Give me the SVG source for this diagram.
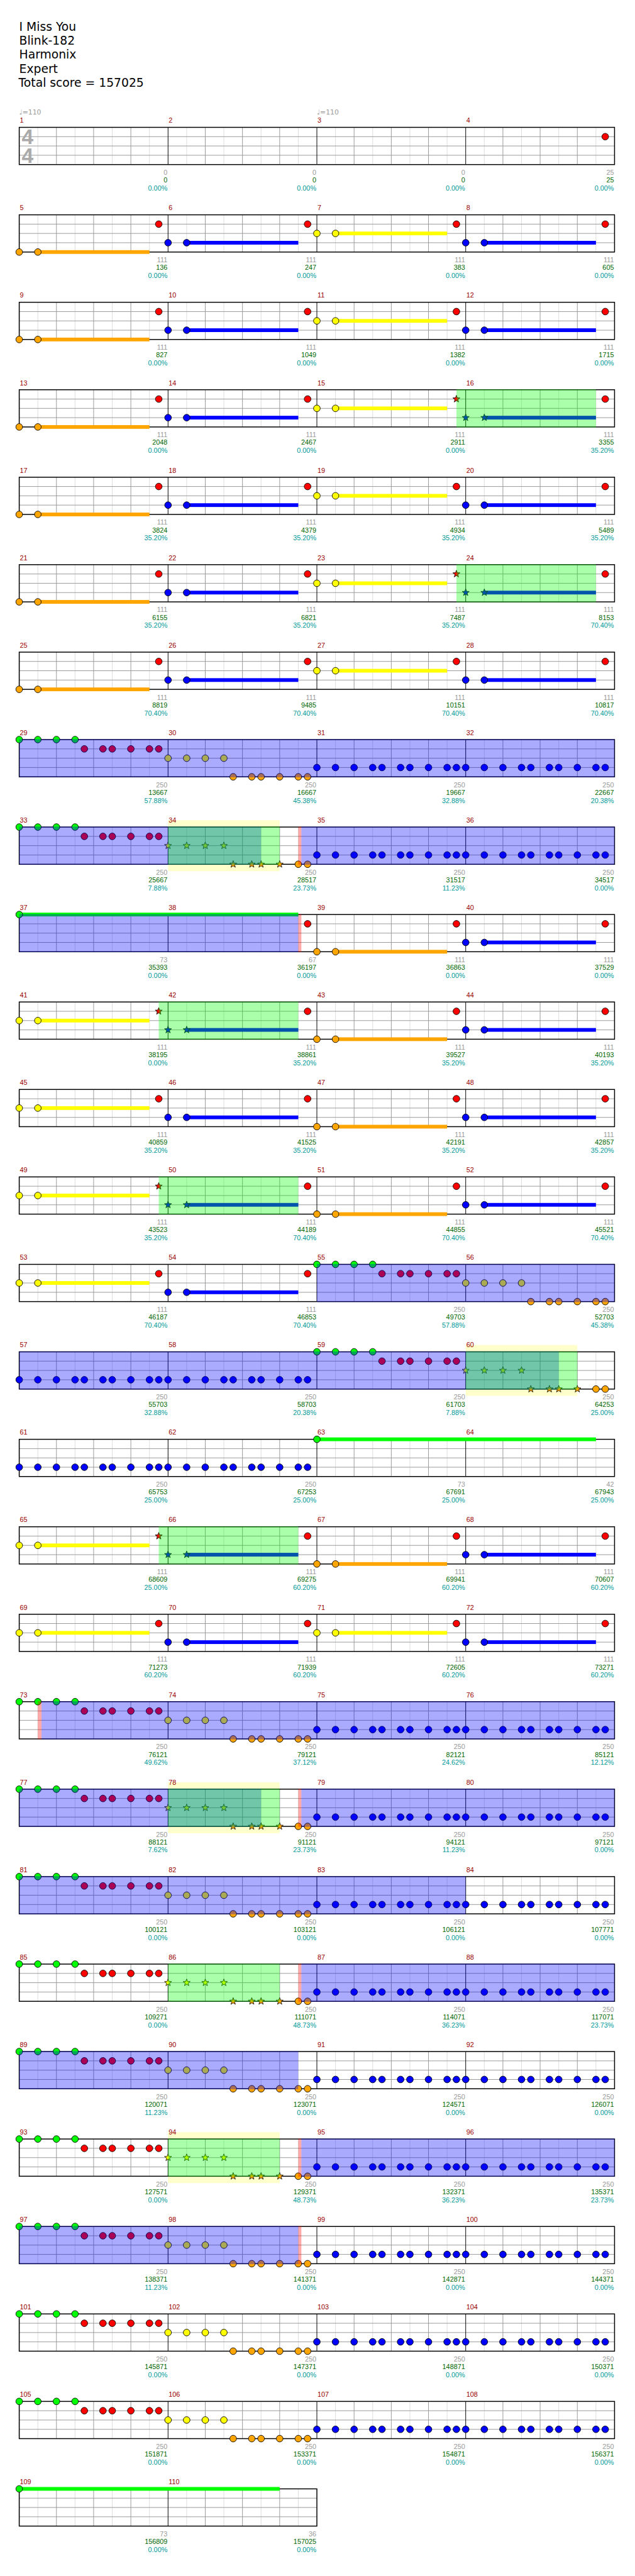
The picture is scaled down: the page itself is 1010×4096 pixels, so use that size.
<svg xmlns="http://www.w3.org/2000/svg" xmlns:xlink="http://www.w3.org/1999/xlink" width="1010" height="4096" viewBox="0 0 1010 4096">
<style>
.hd{font:19px "DejaVu Sans",sans-serif;fill:#000}
.tp{font:11px "DejaVu Sans",sans-serif;fill:#999}
.mn{font:11px "Liberation Sans",Arial,sans-serif;fill:#900}
.s1,.s2,.s3{font:11px "Liberation Sans",Arial,sans-serif;text-anchor:end}
.s1{fill:#999}.s2{fill:#060}.s3{fill:#099}
.ob{fill:#00f;opacity:.333}
.og{fill:#0f0;opacity:.333}
.or{fill:#f00;opacity:.333}
.oy{fill:#ffc}
</style>
<defs>
<circle id="c" r="5.4" stroke="#000" stroke-width="0.9"/>
<use id="G" href="#c" fill="#0f0"/>
<use id="R" href="#c" fill="#f00"/>
<use id="Y" href="#c" fill="#ff0"/>
<use id="B" href="#c" fill="#00f"/>
<use id="O" href="#c" fill="#ffa500"/>
<path id="sp" d="M0,-6L1.47,-2.02L5.71,-1.85L2.38,0.77L3.53,4.85L0,2.5L-3.53,4.85L-2.38,0.77L-5.71,-1.85L-1.47,-2.02Z" stroke="#000" stroke-width="0.8"/>
<use id="sR" href="#sp" fill="#f00"/>
<use id="sY" href="#sp" fill="#ff0"/>
<use id="sB" href="#sp" fill="#00f"/>
<use id="sO" href="#sp" fill="#ffa500"/>
<g id="m">
<rect width="240" height="60" fill="#fff"/>
<path d="M30,0V60M90,0V60M150,0V60M210,0V60" stroke="#ddd"/>
<path d="M60,0V60M120,0V60M180,0V60M0,15H240M0,30H240M0,45H240" stroke="#999"/>
<path d="M0,0V60" stroke="#000"/>
</g>
<g id="st4"><use href="#m"/><use href="#m" x="240"/><use href="#m" x="480"/><use href="#m" x="720"/><rect width="960" height="60" fill="none" stroke="#000" stroke-width="1.5"/></g>
<g id="st2"><use href="#m"/><use href="#m" x="240"/><rect width="480" height="60" fill="none" stroke="#000" stroke-width="1.5"/></g>
<g id="vO"><rect x="30" y="57" width="180" height="6" fill="#ffa500"/><use href="#O" y="60"/><use href="#O" x="30" y="60"/><use href="#R" x="225" y="15"/></g>
<g id="vB"><rect x="30" y="42" width="180" height="6" fill="#00f"/><use href="#B" y="45"/><use href="#B" x="30" y="45"/><use href="#R" x="225" y="15"/></g>
<g id="vY"><rect x="30" y="27" width="180" height="6" fill="#ff0"/><use href="#Y" y="30"/><use href="#Y" x="30" y="30"/><use href="#R" x="225" y="15"/></g>
<g id="vYs"><rect x="30" y="27" width="180" height="6" fill="#ff0"/><use href="#Y" y="30"/><use href="#Y" x="30" y="30"/><use href="#sR" x="225" y="15"/></g>
<g id="vBs"><rect x="30" y="42" width="180" height="6" fill="#00f"/><use href="#sB" y="45"/><use href="#sB" x="30" y="45"/><use href="#R" x="225" y="15"/></g>
<g id="rA"><use href="#G"/><use href="#G" x="30"/><use href="#G" x="60"/><use href="#G" x="90"/><use href="#R" x="105" y="15"/><use href="#R" x="135" y="15"/><use href="#R" x="150" y="15"/><use href="#R" x="180" y="15"/><use href="#R" x="210" y="15"/><use href="#R" x="225" y="15"/></g>
<g id="rB"><use href="#Y" y="30"/><use href="#Y" x="30" y="30"/><use href="#Y" x="60" y="30"/><use href="#Y" x="90" y="30"/><use href="#O" x="105" y="60"/><use href="#O" x="135" y="60"/><use href="#O" x="150" y="60"/><use href="#O" x="180" y="60"/><use href="#O" x="210" y="60"/><use href="#O" x="225" y="60"/></g>
<g id="rBs"><use href="#sY" y="30"/><use href="#sY" x="30" y="30"/><use href="#sY" x="60" y="30"/><use href="#sY" x="90" y="30"/><use href="#sO" x="105" y="60"/><use href="#sO" x="135" y="60"/><use href="#sO" x="150" y="60"/><use href="#sO" x="180" y="60"/><use href="#O" x="210" y="60"/><use href="#O" x="225" y="60"/></g>
<g id="rC"><use href="#B" y="45"/><use href="#B" x="30" y="45"/><use href="#B" x="60" y="45"/><use href="#B" x="90" y="45"/><use href="#B" x="105" y="45"/><use href="#B" x="135" y="45"/><use href="#B" x="150" y="45"/><use href="#B" x="180" y="45"/><use href="#B" x="210" y="45"/><use href="#B" x="225" y="45"/></g>
</defs>
<rect width="1010" height="4096" fill="#fff"/>
<g transform="scale(0.98633)">
<g id="header">
<text class="hd" x="31" y="49.3">I Miss You</text>
<text class="hd" x="31" y="71.7">Blink-182</text>
<text class="hd" x="31" y="94.3">Harmonix</text>
<text class="hd" x="31" y="117.7">Expert</text>
<text class="hd" x="30" y="140">Total score = 157025</text>
</g>

<g id="row1" transform="translate(31,205.3)">
<use href="#st4"/>
<text class="tp" x="0" y="-20.3">♩=110</text><text class="tp" x="480" y="-20.3">♩=110</text>
<text style="font:bold 34px 'Liberation Sans',sans-serif;fill:#aaa" x="4" y="27">4</text>
<text style="font:bold 34px 'Liberation Sans',sans-serif;fill:#aaa" x="4" y="57">4</text>
<use href="#R" x="945" y="15"/>
<text class="mn" x="1" y="-7.3">1</text><text class="mn" x="241" y="-7.3">2</text><text class="mn" x="481" y="-7.3">3</text><text class="mn" x="721" y="-7.3">4</text>
<text class="s1" x="239" y="76.7">0</text><text class="s2" x="239" y="89">0</text><text class="s3" x="239" y="102">0.00%</text>
<text class="s1" x="479" y="76.7">0</text><text class="s2" x="479" y="89">0</text><text class="s3" x="479" y="102">0.00%</text>
<text class="s1" x="719" y="76.7">0</text><text class="s2" x="719" y="89">0</text><text class="s3" x="719" y="102">0.00%</text>
<text class="s1" x="959" y="76.7">25</text><text class="s2" x="959" y="89">25</text><text class="s3" x="959" y="102">0.00%</text>
</g>

<g id="row5" transform="translate(31,346.3)">
<use href="#st4"/>
<use href="#vO"/><use href="#vB" x="240"/><use href="#vY" x="480"/><use href="#vB" x="720"/>
<text class="mn" x="1" y="-7.3">5</text><text class="mn" x="241" y="-7.3">6</text><text class="mn" x="481" y="-7.3">7</text><text class="mn" x="721" y="-7.3">8</text>
<text class="s1" x="239" y="76.7">111</text><text class="s2" x="239" y="89">136</text><text class="s3" x="239" y="102">0.00%</text>
<text class="s1" x="479" y="76.7">111</text><text class="s2" x="479" y="89">247</text><text class="s3" x="479" y="102">0.00%</text>
<text class="s1" x="719" y="76.7">111</text><text class="s2" x="719" y="89">383</text><text class="s3" x="719" y="102">0.00%</text>
<text class="s1" x="959" y="76.7">111</text><text class="s2" x="959" y="89">605</text><text class="s3" x="959" y="102">0.00%</text>
</g>

<g id="row9" transform="translate(31,487.3)">
<use href="#st4"/>
<use href="#vO"/><use href="#vB" x="240"/><use href="#vY" x="480"/><use href="#vB" x="720"/>
<text class="mn" x="1" y="-7.3">9</text><text class="mn" x="241" y="-7.3">10</text><text class="mn" x="481" y="-7.3">11</text><text class="mn" x="721" y="-7.3">12</text>
<text class="s1" x="239" y="76.7">111</text><text class="s2" x="239" y="89">827</text><text class="s3" x="239" y="102">0.00%</text>
<text class="s1" x="479" y="76.7">111</text><text class="s2" x="479" y="89">1049</text><text class="s3" x="479" y="102">0.00%</text>
<text class="s1" x="719" y="76.7">111</text><text class="s2" x="719" y="89">1382</text><text class="s3" x="719" y="102">0.00%</text>
<text class="s1" x="959" y="76.7">111</text><text class="s2" x="959" y="89">1715</text><text class="s3" x="959" y="102">0.00%</text>
</g>

<g id="row13" transform="translate(31,628.3)">
<use href="#st4"/>
<use href="#vO"/><use href="#vB" x="240"/><use href="#vYs" x="480"/><use href="#vBs" x="720"/>
<rect class="og" x="705" y="-0.7" width="225" height="61.4"/>
<text class="mn" x="1" y="-7.3">13</text><text class="mn" x="241" y="-7.3">14</text><text class="mn" x="481" y="-7.3">15</text><text class="mn" x="721" y="-7.3">16</text>
<text class="s1" x="239" y="76.7">111</text><text class="s2" x="239" y="89">2048</text><text class="s3" x="239" y="102">0.00%</text>
<text class="s1" x="479" y="76.7">111</text><text class="s2" x="479" y="89">2467</text><text class="s3" x="479" y="102">0.00%</text>
<text class="s1" x="719" y="76.7">111</text><text class="s2" x="719" y="89">2911</text><text class="s3" x="719" y="102">0.00%</text>
<text class="s1" x="959" y="76.7">111</text><text class="s2" x="959" y="89">3355</text><text class="s3" x="959" y="102">35.20%</text>
</g>

<g id="row17" transform="translate(31,769.3)">
<use href="#st4"/>
<use href="#vO"/><use href="#vB" x="240"/><use href="#vY" x="480"/><use href="#vB" x="720"/>
<text class="mn" x="1" y="-7.3">17</text><text class="mn" x="241" y="-7.3">18</text><text class="mn" x="481" y="-7.3">19</text><text class="mn" x="721" y="-7.3">20</text>
<text class="s1" x="239" y="76.7">111</text><text class="s2" x="239" y="89">3824</text><text class="s3" x="239" y="102">35.20%</text>
<text class="s1" x="479" y="76.7">111</text><text class="s2" x="479" y="89">4379</text><text class="s3" x="479" y="102">35.20%</text>
<text class="s1" x="719" y="76.7">111</text><text class="s2" x="719" y="89">4934</text><text class="s3" x="719" y="102">35.20%</text>
<text class="s1" x="959" y="76.7">111</text><text class="s2" x="959" y="89">5489</text><text class="s3" x="959" y="102">35.20%</text>
</g>

<g id="row21" transform="translate(31,910.3)">
<use href="#st4"/>
<use href="#vO"/><use href="#vB" x="240"/><use href="#vYs" x="480"/><use href="#vBs" x="720"/>
<rect class="og" x="705" y="-0.7" width="225" height="61.4"/>
<text class="mn" x="1" y="-7.3">21</text><text class="mn" x="241" y="-7.3">22</text><text class="mn" x="481" y="-7.3">23</text><text class="mn" x="721" y="-7.3">24</text>
<text class="s1" x="239" y="76.7">111</text><text class="s2" x="239" y="89">6155</text><text class="s3" x="239" y="102">35.20%</text>
<text class="s1" x="479" y="76.7">111</text><text class="s2" x="479" y="89">6821</text><text class="s3" x="479" y="102">35.20%</text>
<text class="s1" x="719" y="76.7">111</text><text class="s2" x="719" y="89">7487</text><text class="s3" x="719" y="102">35.20%</text>
<text class="s1" x="959" y="76.7">111</text><text class="s2" x="959" y="89">8153</text><text class="s3" x="959" y="102">70.40%</text>
</g>

<g id="row25" transform="translate(31,1051.3)">
<use href="#st4"/>
<use href="#vO"/><use href="#vB" x="240"/><use href="#vY" x="480"/><use href="#vB" x="720"/>
<text class="mn" x="1" y="-7.3">25</text><text class="mn" x="241" y="-7.3">26</text><text class="mn" x="481" y="-7.3">27</text><text class="mn" x="721" y="-7.3">28</text>
<text class="s1" x="239" y="76.7">111</text><text class="s2" x="239" y="89">8819</text><text class="s3" x="239" y="102">70.40%</text>
<text class="s1" x="479" y="76.7">111</text><text class="s2" x="479" y="89">9485</text><text class="s3" x="479" y="102">70.40%</text>
<text class="s1" x="719" y="76.7">111</text><text class="s2" x="719" y="89">10151</text><text class="s3" x="719" y="102">70.40%</text>
<text class="s1" x="959" y="76.7">111</text><text class="s2" x="959" y="89">10817</text><text class="s3" x="959" y="102">70.40%</text>
</g>

<g id="row29" transform="translate(31,1192.3)">
<use href="#st4"/>
<use href="#rA"/><use href="#rB" x="240"/><use href="#rC" x="480"/><use href="#rC" x="720"/>
<rect class="ob" x="0" y="-0.7" width="960" height="61.4"/>
<text class="mn" x="1" y="-7.3">29</text><text class="mn" x="241" y="-7.3">30</text><text class="mn" x="481" y="-7.3">31</text><text class="mn" x="721" y="-7.3">32</text>
<text class="s1" x="239" y="76.7">250</text><text class="s2" x="239" y="89">13667</text><text class="s3" x="239" y="102">57.88%</text>
<text class="s1" x="479" y="76.7">250</text><text class="s2" x="479" y="89">16667</text><text class="s3" x="479" y="102">45.38%</text>
<text class="s1" x="719" y="76.7">250</text><text class="s2" x="719" y="89">19667</text><text class="s3" x="719" y="102">32.88%</text>
<text class="s1" x="959" y="76.7">250</text><text class="s2" x="959" y="89">22667</text><text class="s3" x="959" y="102">20.38%</text>
</g>

<g id="row33" transform="translate(31,1333.3)">
<rect class="oy" x="240" y="-11" width="180" height="82"/>
<use href="#st4"/>
<use href="#rA"/><use href="#rBs" x="240"/><use href="#rC" x="480"/><use href="#rC" x="720"/>
<rect class="ob" x="0" y="-0.7" width="390" height="61.4"/>
<rect class="og" x="240" y="-0.7" width="180" height="61.4"/>
<rect class="or" x="450" y="-0.7" width="5" height="61.4"/>
<rect class="ob" x="455" y="-0.7" width="505" height="61.4"/>
<text class="mn" x="1" y="-7.3">33</text><text class="mn" x="241" y="-7.3">34</text><text class="mn" x="481" y="-7.3">35</text><text class="mn" x="721" y="-7.3">36</text>
<text class="s1" x="239" y="76.7">250</text><text class="s2" x="239" y="89">25667</text><text class="s3" x="239" y="102">7.88%</text>
<text class="s1" x="479" y="76.7">250</text><text class="s2" x="479" y="89">28517</text><text class="s3" x="479" y="102">23.73%</text>
<text class="s1" x="719" y="76.7">250</text><text class="s2" x="719" y="89">31517</text><text class="s3" x="719" y="102">11.23%</text>
<text class="s1" x="959" y="76.7">250</text><text class="s2" x="959" y="89">34517</text><text class="s3" x="959" y="102">0.00%</text>
</g>

<g id="row37" transform="translate(31,1474.3)">
<use href="#st4"/>
<rect x="0" y="-3" width="450" height="6" fill="#0f0"/><use href="#G"/><use href="#R" x="465" y="15"/>
<use href="#vO" x="480"/><use href="#vB" x="720"/>
<rect class="ob" x="0" y="-0.7" width="450" height="61.4"/>
<rect class="or" x="450" y="-0.7" width="5" height="61.4"/>
<text class="mn" x="1" y="-7.3">37</text><text class="mn" x="241" y="-7.3">38</text><text class="mn" x="481" y="-7.3">39</text><text class="mn" x="721" y="-7.3">40</text>
<text class="s1" x="239" y="76.7">73</text><text class="s2" x="239" y="89">35393</text><text class="s3" x="239" y="102">0.00%</text>
<text class="s1" x="479" y="76.7">67</text><text class="s2" x="479" y="89">36197</text><text class="s3" x="479" y="102">0.00%</text>
<text class="s1" x="719" y="76.7">111</text><text class="s2" x="719" y="89">36863</text><text class="s3" x="719" y="102">0.00%</text>
<text class="s1" x="959" y="76.7">111</text><text class="s2" x="959" y="89">37529</text><text class="s3" x="959" y="102">0.00%</text>
</g>

<g id="row41" transform="translate(31,1615.3)">
<use href="#st4"/>
<use href="#vYs"/><use href="#vBs" x="240"/><use href="#vO" x="480"/><use href="#vB" x="720"/>
<rect class="og" x="225" y="-0.7" width="225" height="61.4"/>
<text class="mn" x="1" y="-7.3">41</text><text class="mn" x="241" y="-7.3">42</text><text class="mn" x="481" y="-7.3">43</text><text class="mn" x="721" y="-7.3">44</text>
<text class="s1" x="239" y="76.7">111</text><text class="s2" x="239" y="89">38195</text><text class="s3" x="239" y="102">0.00%</text>
<text class="s1" x="479" y="76.7">111</text><text class="s2" x="479" y="89">38861</text><text class="s3" x="479" y="102">35.20%</text>
<text class="s1" x="719" y="76.7">111</text><text class="s2" x="719" y="89">39527</text><text class="s3" x="719" y="102">35.20%</text>
<text class="s1" x="959" y="76.7">111</text><text class="s2" x="959" y="89">40193</text><text class="s3" x="959" y="102">35.20%</text>
</g>

<g id="row45" transform="translate(31,1756.3)">
<use href="#st4"/>
<use href="#vY"/><use href="#vB" x="240"/><use href="#vO" x="480"/><use href="#vB" x="720"/>
<text class="mn" x="1" y="-7.3">45</text><text class="mn" x="241" y="-7.3">46</text><text class="mn" x="481" y="-7.3">47</text><text class="mn" x="721" y="-7.3">48</text>
<text class="s1" x="239" y="76.7">111</text><text class="s2" x="239" y="89">40859</text><text class="s3" x="239" y="102">35.20%</text>
<text class="s1" x="479" y="76.7">111</text><text class="s2" x="479" y="89">41525</text><text class="s3" x="479" y="102">35.20%</text>
<text class="s1" x="719" y="76.7">111</text><text class="s2" x="719" y="89">42191</text><text class="s3" x="719" y="102">35.20%</text>
<text class="s1" x="959" y="76.7">111</text><text class="s2" x="959" y="89">42857</text><text class="s3" x="959" y="102">35.20%</text>
</g>

<g id="row49" transform="translate(31,1897.3)">
<use href="#st4"/>
<use href="#vYs"/><use href="#vBs" x="240"/><use href="#vO" x="480"/><use href="#vB" x="720"/>
<rect class="og" x="225" y="-0.7" width="225" height="61.4"/>
<text class="mn" x="1" y="-7.3">49</text><text class="mn" x="241" y="-7.3">50</text><text class="mn" x="481" y="-7.3">51</text><text class="mn" x="721" y="-7.3">52</text>
<text class="s1" x="239" y="76.7">111</text><text class="s2" x="239" y="89">43523</text><text class="s3" x="239" y="102">35.20%</text>
<text class="s1" x="479" y="76.7">111</text><text class="s2" x="479" y="89">44189</text><text class="s3" x="479" y="102">70.40%</text>
<text class="s1" x="719" y="76.7">111</text><text class="s2" x="719" y="89">44855</text><text class="s3" x="719" y="102">70.40%</text>
<text class="s1" x="959" y="76.7">111</text><text class="s2" x="959" y="89">45521</text><text class="s3" x="959" y="102">70.40%</text>
</g>

<g id="row53" transform="translate(31,2038.3)">
<use href="#st4"/>
<use href="#vY"/><use href="#vB" x="240"/><use href="#rA" x="480"/><use href="#rB" x="720"/>
<rect class="ob" x="480" y="-0.7" width="480" height="61.4"/>
<text class="mn" x="1" y="-7.3">53</text><text class="mn" x="241" y="-7.3">54</text><text class="mn" x="481" y="-7.3">55</text><text class="mn" x="721" y="-7.3">56</text>
<text class="s1" x="239" y="76.7">111</text><text class="s2" x="239" y="89">46187</text><text class="s3" x="239" y="102">70.40%</text>
<text class="s1" x="479" y="76.7">111</text><text class="s2" x="479" y="89">46853</text><text class="s3" x="479" y="102">70.40%</text>
<text class="s1" x="719" y="76.7">250</text><text class="s2" x="719" y="89">49703</text><text class="s3" x="719" y="102">57.88%</text>
<text class="s1" x="959" y="76.7">250</text><text class="s2" x="959" y="89">52703</text><text class="s3" x="959" y="102">45.38%</text>
</g>

<g id="row57" transform="translate(31,2179.3)">
<rect class="oy" x="720" y="-11" width="180" height="82"/>
<use href="#st4"/>
<use href="#rC"/><use href="#rC" x="240"/><use href="#rA" x="480"/><use href="#rBs" x="720"/>
<rect class="ob" x="0" y="-0.7" width="870" height="61.4"/>
<rect class="og" x="720" y="-0.7" width="180" height="61.4"/>
<text class="mn" x="1" y="-7.3">57</text><text class="mn" x="241" y="-7.3">58</text><text class="mn" x="481" y="-7.3">59</text><text class="mn" x="721" y="-7.3">60</text>
<text class="s1" x="239" y="76.7">250</text><text class="s2" x="239" y="89">55703</text><text class="s3" x="239" y="102">32.88%</text>
<text class="s1" x="479" y="76.7">250</text><text class="s2" x="479" y="89">58703</text><text class="s3" x="479" y="102">20.38%</text>
<text class="s1" x="719" y="76.7">250</text><text class="s2" x="719" y="89">61703</text><text class="s3" x="719" y="102">7.88%</text>
<text class="s1" x="959" y="76.7">250</text><text class="s2" x="959" y="89">64253</text><text class="s3" x="959" y="102">25.00%</text>
</g>

<g id="row61" transform="translate(31,2320.3)">
<use href="#st4"/>
<use href="#rC"/><use href="#rC" x="240"/>
<rect x="480" y="-3" width="450" height="6" fill="#0f0"/><use href="#G" x="480"/>
<text class="mn" x="1" y="-7.3">61</text><text class="mn" x="241" y="-7.3">62</text><text class="mn" x="481" y="-7.3">63</text><text class="mn" x="721" y="-7.3">64</text>
<text class="s1" x="239" y="76.7">250</text><text class="s2" x="239" y="89">65753</text><text class="s3" x="239" y="102">25.00%</text>
<text class="s1" x="479" y="76.7">250</text><text class="s2" x="479" y="89">67253</text><text class="s3" x="479" y="102">25.00%</text>
<text class="s1" x="719" y="76.7">73</text><text class="s2" x="719" y="89">67691</text><text class="s3" x="719" y="102">25.00%</text>
<text class="s1" x="959" y="76.7">42</text><text class="s2" x="959" y="89">67943</text><text class="s3" x="959" y="102">25.00%</text>
</g>

<g id="row65" transform="translate(31,2461.3)">
<use href="#st4"/>
<use href="#vYs"/><use href="#vBs" x="240"/><use href="#vO" x="480"/><use href="#vB" x="720"/>
<rect class="og" x="225" y="-0.7" width="225" height="61.4"/>
<text class="mn" x="1" y="-7.3">65</text><text class="mn" x="241" y="-7.3">66</text><text class="mn" x="481" y="-7.3">67</text><text class="mn" x="721" y="-7.3">68</text>
<text class="s1" x="239" y="76.7">111</text><text class="s2" x="239" y="89">68609</text><text class="s3" x="239" y="102">25.00%</text>
<text class="s1" x="479" y="76.7">111</text><text class="s2" x="479" y="89">69275</text><text class="s3" x="479" y="102">60.20%</text>
<text class="s1" x="719" y="76.7">111</text><text class="s2" x="719" y="89">69941</text><text class="s3" x="719" y="102">60.20%</text>
<text class="s1" x="959" y="76.7">111</text><text class="s2" x="959" y="89">70607</text><text class="s3" x="959" y="102">60.20%</text>
</g>

<g id="row69" transform="translate(31,2602.3)">
<use href="#st4"/>
<use href="#vY"/><use href="#vB" x="240"/><use href="#vY" x="480"/><use href="#vB" x="720"/>
<text class="mn" x="1" y="-7.3">69</text><text class="mn" x="241" y="-7.3">70</text><text class="mn" x="481" y="-7.3">71</text><text class="mn" x="721" y="-7.3">72</text>
<text class="s1" x="239" y="76.7">111</text><text class="s2" x="239" y="89">71273</text><text class="s3" x="239" y="102">60.20%</text>
<text class="s1" x="479" y="76.7">111</text><text class="s2" x="479" y="89">71939</text><text class="s3" x="479" y="102">60.20%</text>
<text class="s1" x="719" y="76.7">111</text><text class="s2" x="719" y="89">72605</text><text class="s3" x="719" y="102">60.20%</text>
<text class="s1" x="959" y="76.7">111</text><text class="s2" x="959" y="89">73271</text><text class="s3" x="959" y="102">60.20%</text>
</g>

<g id="row73" transform="translate(31,2743.3)">
<use href="#st4"/>
<use href="#rA"/><use href="#rB" x="240"/><use href="#rC" x="480"/><use href="#rC" x="720"/>
<rect class="or" x="30" y="-0.7" width="6" height="61.4"/>
<rect class="ob" x="36" y="-0.7" width="924" height="61.4"/>
<text class="mn" x="1" y="-7.3">73</text><text class="mn" x="241" y="-7.3">74</text><text class="mn" x="481" y="-7.3">75</text><text class="mn" x="721" y="-7.3">76</text>
<text class="s1" x="239" y="76.7">250</text><text class="s2" x="239" y="89">76121</text><text class="s3" x="239" y="102">49.62%</text>
<text class="s1" x="479" y="76.7">250</text><text class="s2" x="479" y="89">79121</text><text class="s3" x="479" y="102">37.12%</text>
<text class="s1" x="719" y="76.7">250</text><text class="s2" x="719" y="89">82121</text><text class="s3" x="719" y="102">24.62%</text>
<text class="s1" x="959" y="76.7">250</text><text class="s2" x="959" y="89">85121</text><text class="s3" x="959" y="102">12.12%</text>
</g>

<g id="row77" transform="translate(31,2884.3)">
<rect class="oy" x="240" y="-11" width="180" height="82"/>
<use href="#st4"/>
<use href="#rA"/><use href="#rBs" x="240"/><use href="#rC" x="480"/><use href="#rC" x="720"/>
<rect class="ob" x="0" y="-0.7" width="390" height="61.4"/>
<rect class="og" x="240" y="-0.7" width="180" height="61.4"/>
<rect class="or" x="450" y="-0.7" width="5" height="61.4"/>
<rect class="ob" x="455" y="-0.7" width="505" height="61.4"/>
<text class="mn" x="1" y="-7.3">77</text><text class="mn" x="241" y="-7.3">78</text><text class="mn" x="481" y="-7.3">79</text><text class="mn" x="721" y="-7.3">80</text>
<text class="s1" x="239" y="76.7">250</text><text class="s2" x="239" y="89">88121</text><text class="s3" x="239" y="102">7.62%</text>
<text class="s1" x="479" y="76.7">250</text><text class="s2" x="479" y="89">91121</text><text class="s3" x="479" y="102">23.73%</text>
<text class="s1" x="719" y="76.7">250</text><text class="s2" x="719" y="89">94121</text><text class="s3" x="719" y="102">11.23%</text>
<text class="s1" x="959" y="76.7">250</text><text class="s2" x="959" y="89">97121</text><text class="s3" x="959" y="102">0.00%</text>
</g>

<g id="row81" transform="translate(31,3025.3)">
<use href="#st4"/>
<use href="#rA"/><use href="#rB" x="240"/><use href="#rC" x="480"/><use href="#rC" x="720"/>
<rect class="ob" x="0" y="-0.7" width="720" height="61.4"/>
<text class="mn" x="1" y="-7.3">81</text><text class="mn" x="241" y="-7.3">82</text><text class="mn" x="481" y="-7.3">83</text><text class="mn" x="721" y="-7.3">84</text>
<text class="s1" x="239" y="76.7">250</text><text class="s2" x="239" y="89">100121</text><text class="s3" x="239" y="102">0.00%</text>
<text class="s1" x="479" y="76.7">250</text><text class="s2" x="479" y="89">103121</text><text class="s3" x="479" y="102">0.00%</text>
<text class="s1" x="719" y="76.7">250</text><text class="s2" x="719" y="89">106121</text><text class="s3" x="719" y="102">0.00%</text>
<text class="s1" x="959" y="76.7">250</text><text class="s2" x="959" y="89">107771</text><text class="s3" x="959" y="102">0.00%</text>
</g>

<g id="row85" transform="translate(31,3166.3)">
<use href="#st4"/>
<use href="#rA"/><use href="#rBs" x="240"/><use href="#rC" x="480"/><use href="#rC" x="720"/>
<rect class="og" x="240" y="-0.7" width="180" height="61.4"/>
<rect class="or" x="450" y="-0.7" width="5" height="61.4"/>
<rect class="ob" x="455" y="-0.7" width="505" height="61.4"/>
<text class="mn" x="1" y="-7.3">85</text><text class="mn" x="241" y="-7.3">86</text><text class="mn" x="481" y="-7.3">87</text><text class="mn" x="721" y="-7.3">88</text>
<text class="s1" x="239" y="76.7">250</text><text class="s2" x="239" y="89">109271</text><text class="s3" x="239" y="102">0.00%</text>
<text class="s1" x="479" y="76.7">250</text><text class="s2" x="479" y="89">111071</text><text class="s3" x="479" y="102">48.73%</text>
<text class="s1" x="719" y="76.7">250</text><text class="s2" x="719" y="89">114071</text><text class="s3" x="719" y="102">36.23%</text>
<text class="s1" x="959" y="76.7">250</text><text class="s2" x="959" y="89">117071</text><text class="s3" x="959" y="102">23.73%</text>
</g>

<g id="row89" transform="translate(31,3307.3)">
<use href="#st4"/>
<use href="#rA"/><use href="#rB" x="240"/><use href="#rC" x="480"/><use href="#rC" x="720"/>
<rect class="ob" x="0" y="-0.7" width="450" height="61.4"/>
<text class="mn" x="1" y="-7.3">89</text><text class="mn" x="241" y="-7.3">90</text><text class="mn" x="481" y="-7.3">91</text><text class="mn" x="721" y="-7.3">92</text>
<text class="s1" x="239" y="76.7">250</text><text class="s2" x="239" y="89">120071</text><text class="s3" x="239" y="102">11.23%</text>
<text class="s1" x="479" y="76.7">250</text><text class="s2" x="479" y="89">123071</text><text class="s3" x="479" y="102">0.00%</text>
<text class="s1" x="719" y="76.7">250</text><text class="s2" x="719" y="89">124571</text><text class="s3" x="719" y="102">0.00%</text>
<text class="s1" x="959" y="76.7">250</text><text class="s2" x="959" y="89">126071</text><text class="s3" x="959" y="102">0.00%</text>
</g>

<g id="row93" transform="translate(31,3448.3)">
<rect class="oy" x="240" y="-11" width="180" height="82"/>
<use href="#st4"/>
<use href="#rA"/><use href="#rBs" x="240"/><use href="#rC" x="480"/><use href="#rC" x="720"/>
<rect class="og" x="240" y="-0.7" width="180" height="61.4"/>
<rect class="or" x="450" y="-0.7" width="5" height="61.4"/>
<rect class="ob" x="455" y="-0.7" width="505" height="61.4"/>
<text class="mn" x="1" y="-7.3">93</text><text class="mn" x="241" y="-7.3">94</text><text class="mn" x="481" y="-7.3">95</text><text class="mn" x="721" y="-7.3">96</text>
<text class="s1" x="239" y="76.7">250</text><text class="s2" x="239" y="89">127571</text><text class="s3" x="239" y="102">0.00%</text>
<text class="s1" x="479" y="76.7">250</text><text class="s2" x="479" y="89">129371</text><text class="s3" x="479" y="102">48.73%</text>
<text class="s1" x="719" y="76.7">250</text><text class="s2" x="719" y="89">132371</text><text class="s3" x="719" y="102">36.23%</text>
<text class="s1" x="959" y="76.7">250</text><text class="s2" x="959" y="89">135371</text><text class="s3" x="959" y="102">23.73%</text>
</g>

<g id="row97" transform="translate(31,3589.3)">
<use href="#st4"/>
<use href="#rA"/><use href="#rB" x="240"/><use href="#rC" x="480"/><use href="#rC" x="720"/>
<rect class="ob" x="0" y="-0.7" width="450" height="61.4"/>
<rect class="or" x="450" y="-0.7" width="5" height="61.4"/>
<text class="mn" x="1" y="-7.3">97</text><text class="mn" x="241" y="-7.3">98</text><text class="mn" x="481" y="-7.3">99</text><text class="mn" x="721" y="-7.3">100</text>
<text class="s1" x="239" y="76.7">250</text><text class="s2" x="239" y="89">138371</text><text class="s3" x="239" y="102">11.23%</text>
<text class="s1" x="479" y="76.7">250</text><text class="s2" x="479" y="89">141371</text><text class="s3" x="479" y="102">0.00%</text>
<text class="s1" x="719" y="76.7">250</text><text class="s2" x="719" y="89">142871</text><text class="s3" x="719" y="102">0.00%</text>
<text class="s1" x="959" y="76.7">250</text><text class="s2" x="959" y="89">144371</text><text class="s3" x="959" y="102">0.00%</text>
</g>

<g id="row101" transform="translate(31,3730.3)">
<use href="#st4"/>
<use href="#rA"/><use href="#rB" x="240"/><use href="#rC" x="480"/><use href="#rC" x="720"/>
<text class="mn" x="1" y="-7.3">101</text><text class="mn" x="241" y="-7.3">102</text><text class="mn" x="481" y="-7.3">103</text><text class="mn" x="721" y="-7.3">104</text>
<text class="s1" x="239" y="76.7">250</text><text class="s2" x="239" y="89">145871</text><text class="s3" x="239" y="102">0.00%</text>
<text class="s1" x="479" y="76.7">250</text><text class="s2" x="479" y="89">147371</text><text class="s3" x="479" y="102">0.00%</text>
<text class="s1" x="719" y="76.7">250</text><text class="s2" x="719" y="89">148871</text><text class="s3" x="719" y="102">0.00%</text>
<text class="s1" x="959" y="76.7">250</text><text class="s2" x="959" y="89">150371</text><text class="s3" x="959" y="102">0.00%</text>
</g>

<g id="row105" transform="translate(31,3871.3)">
<use href="#st4"/>
<use href="#rA"/><use href="#rB" x="240"/><use href="#rC" x="480"/><use href="#rC" x="720"/>
<text class="mn" x="1" y="-7.3">105</text><text class="mn" x="241" y="-7.3">106</text><text class="mn" x="481" y="-7.3">107</text><text class="mn" x="721" y="-7.3">108</text>
<text class="s1" x="239" y="76.7">250</text><text class="s2" x="239" y="89">151871</text><text class="s3" x="239" y="102">0.00%</text>
<text class="s1" x="479" y="76.7">250</text><text class="s2" x="479" y="89">153371</text><text class="s3" x="479" y="102">0.00%</text>
<text class="s1" x="719" y="76.7">250</text><text class="s2" x="719" y="89">154871</text><text class="s3" x="719" y="102">0.00%</text>
<text class="s1" x="959" y="76.7">250</text><text class="s2" x="959" y="89">156371</text><text class="s3" x="959" y="102">0.00%</text>
</g>

<g id="row109" transform="translate(31,4012.3)">
<use href="#st2"/>
<rect x="0" y="-3" width="420" height="6" fill="#0f0"/><use href="#G"/>
<text class="mn" x="1" y="-7.3">109</text><text class="mn" x="241" y="-7.3">110</text>
<text class="s1" x="239" y="76.7">73</text><text class="s2" x="239" y="89">156809</text><text class="s3" x="239" y="102">0.00%</text>
<text class="s1" x="479" y="76.7">36</text><text class="s2" x="479" y="89">157025</text><text class="s3" x="479" y="102">0.00%</text>
</g>
</g>
</svg>
